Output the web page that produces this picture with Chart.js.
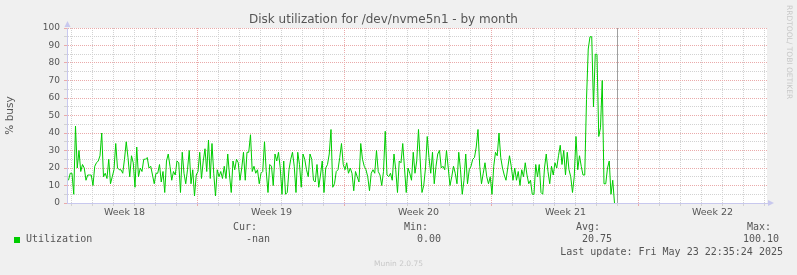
<!DOCTYPE html>
<html>
<head>
<meta charset="utf-8">
<title>Disk utilization for /dev/nvme5n1 - by month</title>
<script src="https://cdn.jsdelivr.net/npm/chart.js@4.4.1/dist/chart.umd.min.js"></script>
<style>
  body { margin: 0; background: #f0f0f0; }
  #wrap { position: relative; width: 797px; height: 275px; overflow: hidden; }
  #wrap canvas { position: absolute; left: 0; top: 0; }
  .t { position: absolute; font-family: "DejaVu Sans Mono", monospace; font-size: 10px; line-height: 10px; color: #555; white-space: pre; }
  .swatch { position: absolute; left: 14px; top: 237px; width: 6px; height: 6px; background: #00cc00; }
  .munin { position: absolute; left: 0; width: 797px; top: 260px; text-align: center; font-family: "DejaVu Sans", sans-serif; font-size: 7.5px; line-height: 8px; color: #c8c8c8; }
  .rrd { position: absolute; left: 785px; top: 5px; writing-mode: vertical-rl; font-family: "DejaVu Sans", sans-serif; font-size: 7.5px; line-height: 8px; color: #c8c8c8; white-space: pre; }
</style>
</head>
<body>
<div id="wrap">
  <canvas id="myChart" width="797" height="275"></canvas>
  <div class="swatch"></div>
  <div class="t" style="left:26px;top:234px">Utilization</div>
  <div class="t" id="stats"></div>
  <div class="t" style="right:14px;top:247px">Last update: Fri May 23 22:35:24 2025</div>
  <div class="munin">Munin 2.0.75</div>
  <div class="rrd">RRDTOOL/ TOBI OETIKER</div>
</div>
<script>
// hours are counted from Sun Apr 27 2025 00:00
const weekLabels = ["Week 18", "Week 19", "Week 20", "Week 21", "Week 22"];
const axisFromHour = 18.3;
const axisToHour = 818.3;
const firstSampleHour = 20;
const sampleHours = 2;
const lastUpdateHour = 646.6;

const statNames = ["Cur:", "Min:", "Avg:", "Max:"];
const statValues = ["-nan", "0.00", "20.75", "100.10"];

// % busy, one value per 2 hours
const busy = [
  13,17,17,5,44,20,30,18,22,20, 13,16,16,16,10,21,23,24,27,40,
  15,17,14,25,11,15,19,34,20,19, 19,17,25,35,26,15,27,23,9,32,
  15,20,18,25,25,26,20,21,16,11, 17,17,22,12,18,6,24,28,21,13,
  18,16,24,23,6,29,17,11,19,30, 11,19,4,16,18,29,14,24,31,18,
  36,14,34,17,4,19,15,18,14,21, 14,28,16,6,24,19,25,23,13,20,
  29,13,29,29,39,
  18,21,17,19,11,17,18,35,18,6, 22,21,10,28,24,29,20,5,24,
  5,6,19,25,29,21,6,29,22, 9,28,25,19,15,28,25,13,12,
  22,9,16,24,6,20,22,28,42,9, 11,18,19,26,34,22,19,23,17,20,
  17,7,18,15,12,34,25,21, 19,15,7,17,19,17,30,18,16,
  10,18,41,16,15,17,13,28, 19,6,24,23,34,20,6,20,
  17,13,29,17,24,42,24,6,10,20, 38,26,17,29,
  11,21,28,30,20,21,19,30,20, 10,15,21,17,11,29,19,5,13,
  28,11,19,21,25,26,32,42,21, 11,17,23,15,11,15,5,21,29,
  27,40,26,20,16,13,20,27,21, 13,20,13,18,10,19,15,23,16,
  11,13,5,5,22,15,22,6,5,20, 28,18,11,21,16,23,20,27,33,
  22,30,16,29,19,15,6,15,38, 19,27,21,16,16,59,88,95,
  95,55,85,85,38,43,70,11, 11,20,24,5,13,0
];

const statLeft = [[233, 246], [404, 417], [576, 582], [747, 743]];
var statsBox = document.getElementById("stats");
statNames.forEach(function (n, i) {
  statsBox.insertAdjacentHTML("afterend",
    '<div class="t" style="left:' + statLeft[i][0] + 'px;top:222px">' + n + '</div>' +
    '<div class="t" style="left:' + statLeft[i][1] + 'px;top:234px">' + statValues[i] + '</div>');
});

const points = busy.map((v, i) => ({ x: firstSampleHour + i * sampleHours, y: v }));

const dayHours = [];
for (let h = 24; h < axisToHour; h += 24) dayHours.push(h);
const labelHours = weekLabels.map((w, i) => 84 + i * 168);

const majorColor = "#eaaaaa";
const minorColor = "#d2d2d2";
const axisColor = "#c8c8ee";

function xGridColor(c) {
  const v = c.tick ? c.tick.value : 0;
  if (labelHours.indexOf(v) >= 0) return "rgba(0,0,0,0)";
  return v % 168 === 0 ? majorColor : minorColor;
}
function yGridColor(c) {
  const v = c.tick ? c.tick.value : 0;
  return v % 10 === 0 ? majorColor : minorColor;
}

const muninLook = {
  id: "muninLook",
  beforeDraw(chart) {
    const { ctx, chartArea: a } = chart;
    ctx.save();
    ctx.fillStyle = "#f0f0f0";
    ctx.fillRect(0, 0, chart.width, chart.height);
    ctx.fillStyle = "#ffffff";
    ctx.fillRect(a.left, a.top, a.right - a.left, a.bottom - a.top);
    ctx.restore();
  },
  beforeDatasetsDraw(chart) {
    const { ctx, chartArea: a } = chart;
    const x = Math.round(chart.scales.x.getPixelForValue(lastUpdateHour)) + 0.5;
    ctx.save();
    ctx.strokeStyle = "#a0a0a0";
    ctx.lineWidth = 1;
    ctx.beginPath();
    ctx.moveTo(x, a.top);
    ctx.lineTo(x, a.bottom);
    ctx.stroke();
    ctx.restore();
  },
  afterDraw(chart) {
    const { ctx, chartArea: a } = chart;
    ctx.save();
    ctx.fillStyle = axisColor;
    ctx.beginPath(); // y arrow
    ctx.moveTo(a.left - 2.5, a.top - 1);
    ctx.lineTo(a.left + 3.5, a.top - 1);
    ctx.lineTo(a.left + 0.5, a.top - 7);
    ctx.fill();
    ctx.beginPath(); // x arrow
    ctx.moveTo(a.right + 1, a.bottom - 3);
    ctx.lineTo(a.right + 1, a.bottom + 3);
    ctx.lineTo(a.right + 7, a.bottom);
    ctx.fill();
    ctx.restore();
  }
};

new Chart("myChart", {
  type: "line",
  data: {
    datasets: [{
      label: "Utilization",
      data: points,
      borderColor: "#00cc00",
      borderWidth: 1,
      pointRadius: 0,
      tension: 0,
      fill: false
    }]
  },
  options: {
    responsive: false,
    animation: false,
    devicePixelRatio: 1,
    layout: { padding: { left: 0, right: 30, top: 0, bottom: 0 } },
    plugins: {
      legend: { display: false },
      tooltip: { enabled: false },
      title: {
        display: true,
        text: "Disk utilization for /dev/nvme5n1 - by month",
        color: "#555",
        font: { family: "DejaVu Sans", size: 12, weight: "normal" },
        padding: { top: 12.5, bottom: 1.1 }
      }
    },
    scales: {
      x: {
        type: "linear",
        min: axisFromHour,
        max: axisToHour,
        afterBuildTicks: s => {
          s.ticks = dayHours.concat(labelHours).sort((a, b) => a - b).map(v => ({ value: v }));
        },
        afterFit: s => { s.height = 72; },
        ticks: {
          autoSkip: false,
          maxRotation: 0,
          padding: 1,
          color: "#555",
          font: { family: "DejaVu Sans", size: 9.5 },
          callback: v => {
            const i = labelHours.indexOf(v);
            return i < 0 ? "" : weekLabels[i];
          }
        },
        grid: { color: xGridColor, tickColor: xGridColor, tickLength: 3 },
        border: { color: axisColor, dash: [1, 1] }
      },
      y: {
        min: 0,
        max: 100,
        afterFit: s => { s.width = 67; },
        ticks: {
          stepSize: 5,
          autoSkip: false,
          padding: 4,
          color: "#555",
          font: { family: "DejaVu Sans", size: 9 },
          callback: v => (v % 10 === 0 ? v : "")
        },
        title: {
          display: true,
          text: "% busy",
          color: "#555",
          font: { family: "DejaVu Sans", size: 10.5 },
          padding: { top: 4, bottom: 0 }
        },
        grid: { color: yGridColor, tickColor: yGridColor, tickLength: 3 },
        border: { color: axisColor, dash: [1, 1] }
      }
    }
  },
  plugins: [muninLook]
});
</script>
</body>
</html>
